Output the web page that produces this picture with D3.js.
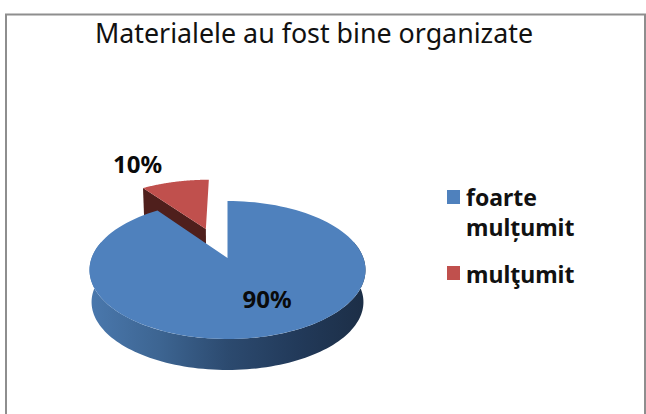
<!DOCTYPE html>
<html><head><meta charset="utf-8">
<script src="https://cdn.jsdelivr.net/npm/d3@7/dist/d3.min.js"></script>
<style>html,body{margin:0;padding:0;background:#fff}svg{display:block}</style>
</head><body><svg id="c" width="646" height="414"></svg>
<script>
const title = "Materialele au fost bine organizate";
const categories = ["foarte mulțumit", "mulţumit"];
const legendLines = [["foarte", "mulțumit"], ["mulţumit"]];
const values = [90, 10];
const labels = ["90%", "10%"];
const topColors = ["#4f81bd", "#c0504d"];
const sideStops = ["#4a78ad", "#3d6592", "#2c4a6f", "#223a5a", "#1c2e46"];
const explodeDark = "#4f1f1c";

const svg = d3.select("#c");
const W = 646, H = 414;
const font = "'Noto Sans', 'Open Sans', sans-serif";

// frame
svg.append("path").attr("d", `M6,${H}V14.5H${W-1}V${H}`).attr("fill","none").attr("stroke","#8e8e8e").attr("stroke-width",2);
svg.append("text").attr("x",314).attr("y",42.5).attr("text-anchor","middle")
  .attr("font-family",font).attr("font-size",26.8).attr("fill","#111").text(title);

// projection of the pie disc with perspective
const cx = 227.5, cy = 258, a = 66.9, b = 135.9, k = 0.174;
const project = (x, y, depth) => {
  const w = 1 - k * y;
  const s = depth ? 0.985 : 1;
  return [cx + s * b * x / w, cy + s * a * y / w + (depth ? 32.2 : 0)];
};
const pie = d3.pie().value(d => d).sort(null)(values);
const line = d3.line();
const pt = (ang, r, off, depth) => project(off[0] + r * Math.sin(ang), off[1] - r * Math.cos(ang), depth);
const arcPts = (s, e, off, depth) => d3.range(0, 121).map(i => pt(s + (e - s) * i / 120, 1, off, depth));

const defs = svg.append("defs");
const grad = defs.append("linearGradient").attr("id","side").attr("gradientUnits","userSpaceOnUse")
  .attr("x1",90).attr("x2",366).attr("y1",0).attr("y2",0);
sideStops.forEach((c,i)=>grad.append("stop").attr("offset",i/(sideStops.length-1)).attr("stop-color",c));

const [blue, red] = pie;
const explode = 0.493, mid = (red.startAngle + red.endAngle) / 2;
const off = [explode * Math.sin(mid) - 0.02, -explode * Math.cos(mid)];
const zero = [0, 0];

// exploded slice
const redCut = [pt(red.startAngle,1,off,false), pt(0,0,off,false), pt(0,0,off,true), pt(red.startAngle,1,off,true)];
svg.append("path").attr("d", line(redCut) + "Z").attr("fill", explodeDark);
svg.append("path").attr("d", line([pt(0,0,off,false), ...arcPts(red.startAngle, red.endAngle, off, false)]) + "Z").attr("fill", topColors[1]);

// main slice wall (front half) then top
const wallS = Math.PI * 0.42, wallE = Math.PI * 1.58;
svg.append("path").attr("d", line([...arcPts(wallS, wallE, zero, false), ...arcPts(wallS, wallE, zero, true).reverse()]) + "Z").attr("fill","url(#side)");
svg.append("path").attr("d", line([pt(0,0,zero,false), ...arcPts(blue.startAngle, blue.endAngle, zero, false)]) + "Z").attr("fill", topColors[0]);

// data labels
const lab = svg.append("g").attr("font-family",font).attr("font-weight",700).attr("font-size",24).attr("fill","#0a0a0a").attr("text-anchor","middle");
lab.append("text").attr("x",267).attr("y",308).text(labels[0]);
lab.append("text").attr("x",137.5).attr("y",173).text(labels[1]);

// legend
const legendY = [197, 274];
categories.forEach((c,i)=>{
  svg.append("rect").attr("x",447).attr("y",legendY[i]-7+ (i?-1:0)).attr("width",13).attr("height",14).attr("fill",topColors[i]);
  const t = svg.append("text").attr("font-family",font).attr("font-weight",700).attr("font-size",23).attr("fill","#111");
  legendLines[i].forEach((l,j)=>t.append("tspan").attr("x",466).attr("y",legendY[i]+9+j*30).text(l));
});
</script></body></html>
